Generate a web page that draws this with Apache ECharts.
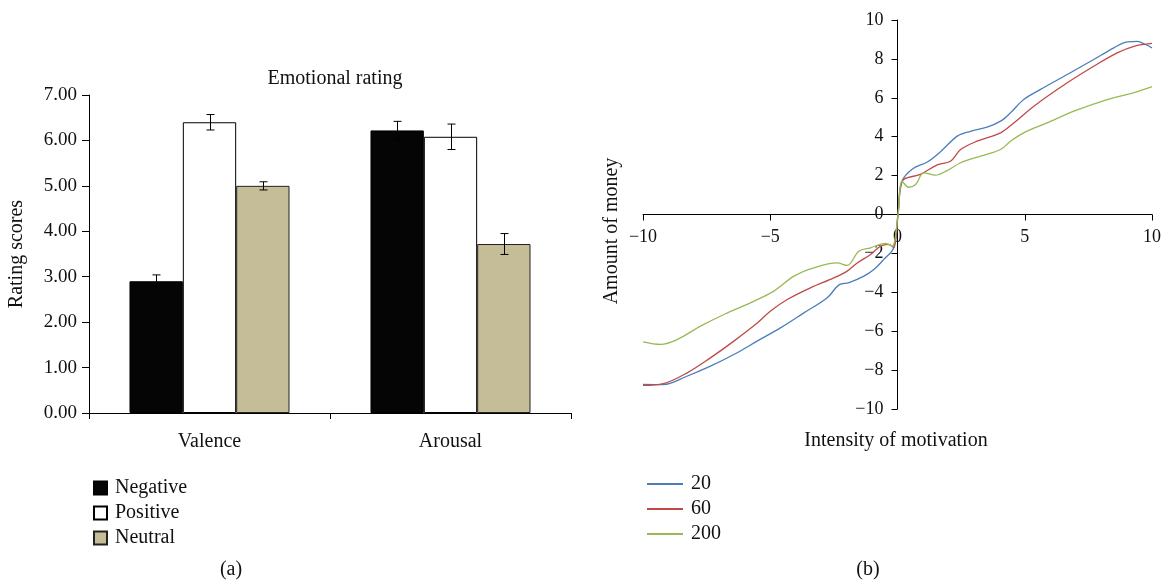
<!DOCTYPE html>
<html><head><meta charset="utf-8">
<script src="https://cdn.jsdelivr.net/npm/echarts@6/dist/echarts.min.js"></script>
<style>html,body{margin:0;padding:0;background:#fff}#c{width:1164px;height:582px}</style>
</head><body><div id="c"></div>
<script>
// ---- Panel (a) data ----
const categories = ['Valence', 'Arousal'];
const negative = [2.90, 6.22];
const positive = [6.40, 6.08];
const neutral = [5.00, 3.72];
const negativeErr = [0.14, 0.20];
const positiveErr = [0.17, 0.28];
const neutralErr = [0.09, 0.23];
const barNames = ['Negative', 'Positive', 'Neutral'];

// ---- Panel (b) data: [intensity, amount] ----
const lineNames = ['20', '60', '200'];
const line20 = [[-10,-8.74],[-9.2,-8.75],[-8.3,-8.33],[-7.35,-7.8],[-6.43,-7.2],[-5.5,-6.5],[-4.6,-5.83],[-3.68,-5.06],[-2.76,-4.28],[-2.3,-3.62],[-1.9,-3.5],[-1.32,-3.17],[-0.93,-2.83],[-0.54,-2.31],[-0.15,-1.71],[0.02,0],[0.18,1.71],[0.6,2.35],[1.17,2.7],[1.7,3.24],[2.35,4.03],[2.87,4.28],[3.52,4.49],[4.05,4.8],[4.44,5.23],[4.96,5.91],[5.62,6.43],[6.67,7.2],[7.71,7.97],[8.5,8.57],[9.03,8.88],[9.42,8.9],[9.74,8.74],[10,8.57]];
const line60 = [[-10,-8.79],[-9.2,-8.7],[-8.26,-8.14],[-7.35,-7.37],[-6.43,-6.51],[-5.5,-5.57],[-5,-4.97],[-4.33,-4.37],[-3.42,-3.77],[-2.5,-3.26],[-1.98,-2.91],[-1.58,-2.49],[-1.06,-2.06],[-0.67,-1.63],[-0.34,-1.54],[-0.15,-1.71],[0.02,0],[0.18,1.71],[0.9,2.06],[1.56,2.55],[2.08,2.74],[2.48,3.34],[3.13,3.77],[4.05,4.2],[4.57,4.71],[5.36,5.57],[6.67,6.77],[7.71,7.62],[8.63,8.31],[9.29,8.65],[10,8.8]];
const line200 = [[-10,-6.55],[-9.31,-6.68],[-8.66,-6.43],[-7.74,-5.74],[-6.82,-5.14],[-5.78,-4.54],[-4.86,-3.94],[-4.07,-3.17],[-3.29,-2.74],[-2.37,-2.49],[-1.98,-2.62],[-1.52,-1.89],[-1.06,-1.71],[-0.47,-1.49],[-0.21,-1.63],[0.02,0],[0.18,1.71],[0.44,1.4],[0.71,1.54],[1.03,2.14],[1.49,2.02],[1.95,2.26],[2.48,2.66],[3.26,3.0],[4.05,3.34],[4.44,3.77],[4.96,4.2],[5.88,4.71],[6.93,5.31],[8.24,5.91],[9.29,6.26],[10,6.57]];

const FONT = 'Liberation Serif';
const FS = 20;      // titles, names, legends
const FT = 18;      // tick labels
const GAP = 0.336;
const minus = v => String(v).replace('-', '\u2212');

// grid geometry
const G0 = {left: 89, right: 593, top: 95, bottom: 169};
const G1 = {left: 643, right: 12, top: 20, bottom: 173};
const g1W = 1164 - G1.left - G1.right;
const g1H = 582 - G1.top - G1.bottom;

function errSeries(vals, errs, idx) {
  return {
    type: 'custom', xAxisIndex: 0, yAxisIndex: 0, silent: true, z: 5,
    data: vals.map((v, i) => [i, v - errs[i], v + errs[i]]),
    renderItem: (params, api) => {
      const c = api.value(0);
      const lo = api.coord([c, api.value(1)]);
      const hi = api.coord([c, api.value(2)]);
      const bandW = api.size([1, 0])[0];
      const barW = bandW * (1 - GAP) / 3;
      const x = Math.round(lo[0] + (idx - 1) * barW) + 0.5;
      const cap = 4;
      const st = {stroke: '#000', lineWidth: 1};
      return {type: 'group', children: [
        {type: 'line', shape: {x1: x, y1: lo[1], x2: x, y2: hi[1]}, style: st},
        {type: 'line', shape: {x1: x - cap, y1: lo[1], x2: x + cap, y2: lo[1]}, style: st},
        {type: 'line', shape: {x1: x - cap, y1: hi[1], x2: x + cap, y2: hi[1]}, style: st}
      ]};
    }
  };
}

const txt = {fontFamily: FONT, fontSize: FS, color: '#111'};
const tck = {fontFamily: FONT, fontSize: FT, color: '#111'};
const font = `${FS}px "${FONT}"`;
const chart = echarts.init(document.getElementById('c'));
chart.setOption({
  animation: false,
  backgroundColor: '#fff',
  textStyle: {fontFamily: FONT},
  title: {text: 'Emotional rating', left: 330, top: 64, textAlign: 'center',
    textStyle: {fontFamily: FONT, fontSize: FS, fontWeight: 'normal', color: '#111'}},
  grid: [G0, G1],
  legend: [
    {data: barNames, orient: 'vertical', left: 88, top: 473, icon: 'rect',
      itemWidth: 13, itemHeight: 13, itemGap: 5,
      textStyle: Object.assign({}, txt, {padding: [0, 0, 0, 3]})},
    {data: lineNames, orient: 'vertical', left: 642, top: 469, icon: 'rect',
      itemWidth: 36, itemHeight: 2, itemGap: 5,
      textStyle: Object.assign({}, txt, {padding: [0, 0, 0, 3]})}
  ],
  xAxis: [
    {gridIndex: 0, type: 'category', data: categories,
      axisLine: {lineStyle: {color: '#000', width: 1}},
      axisTick: {show: true, length: 6, lineStyle: {color: '#000'}},
      axisLabel: Object.assign({margin: 19}, txt)},
    {gridIndex: 1, type: 'value', min: -10, max: 10, interval: 5,
      position: 'bottom', offset: -g1H / 2,
      axisLine: {onZero: false, lineStyle: {color: '#000', width: 1}},
      axisTick: {length: 6, lineStyle: {color: '#000'}},
      splitLine: {show: false},
      axisLabel: Object.assign({margin: 14, formatter: minus}, tck)}
  ],
  yAxis: [
    {gridIndex: 0, type: 'value', min: 0, max: 7, interval: 1,
      name: 'Rating scores', nameLocation: 'middle', nameGap: 62, nameRotate: 90,
      nameTextStyle: txt,
      axisLine: {show: true, lineStyle: {color: '#000', width: 1}},
      axisTick: {show: true, length: 7, lineStyle: {color: '#000'}},
      splitLine: {show: false},
      axisLabel: Object.assign({margin: 12, formatter: v => v.toFixed(2)}, tck, {fontSize: 19})},
    {gridIndex: 1, type: 'value', min: -10, max: 10, interval: 2,
      position: 'left', offset: -g1W / 2,
      axisLine: {show: true, onZero: false, lineStyle: {color: '#000', width: 1}},
      axisTick: {show: true, length: 6, lineStyle: {color: '#000'}},
      splitLine: {show: false},
      axisLabel: Object.assign({margin: 14, formatter: minus}, tck)}
  ],
  graphic: [
    {type: 'text', style: {text: '(a)', x: 231, y: 570, align: 'center', verticalAlign: 'middle', font: font, fill: '#111'}},
    {type: 'text', style: {text: '(b)', x: 868, y: 570, align: 'center', verticalAlign: 'middle', font: font, fill: '#111'}},
    {type: 'text', style: {text: 'Intensity of motivation', x: 896, y: 441, align: 'center', verticalAlign: 'middle', font: font, fill: '#111'}},
    {type: 'text', x: 612, y: 231, rotation: Math.PI / 2, style: {text: 'Amount of money', x: 0, y: 0, align: 'center', verticalAlign: 'middle', font: font, fill: '#111'}}
  ],
  series: [
    {name: 'Negative', type: 'bar', xAxisIndex: 0, yAxisIndex: 0, data: negative,
      barGap: '0%', barCategoryGap: (GAP * 100) + '%',
      itemStyle: {color: '#050505', borderColor: '#000', borderWidth: 1}},
    {name: 'Positive', type: 'bar', xAxisIndex: 0, yAxisIndex: 0, data: positive,
      itemStyle: {color: '#ffffff', borderColor: '#000', borderWidth: 1}},
    {name: 'Neutral', type: 'bar', xAxisIndex: 0, yAxisIndex: 0, data: neutral,
      itemStyle: {color: '#c4bd97', borderColor: '#222', borderWidth: 1}},
    errSeries(negative, negativeErr, 0),
    errSeries(positive, positiveErr, 1),
    errSeries(neutral, neutralErr, 2),
    {name: '20', type: 'line', xAxisIndex: 1, yAxisIndex: 1, data: line20, smooth: 0.35,
      symbol: 'none', lineStyle: {color: '#4a7ebb', width: 1.3}, itemStyle: {color: '#4a7ebb'}},
    {name: '60', type: 'line', xAxisIndex: 1, yAxisIndex: 1, data: line60, smooth: 0.35,
      symbol: 'none', lineStyle: {color: '#be4b48', width: 1.3}, itemStyle: {color: '#be4b48'}},
    {name: '200', type: 'line', xAxisIndex: 1, yAxisIndex: 1, data: line200, smooth: 0.35,
      symbol: 'none', lineStyle: {color: '#98b954', width: 1.3}, itemStyle: {color: '#98b954'}}
  ]
});
</script></body></html>
